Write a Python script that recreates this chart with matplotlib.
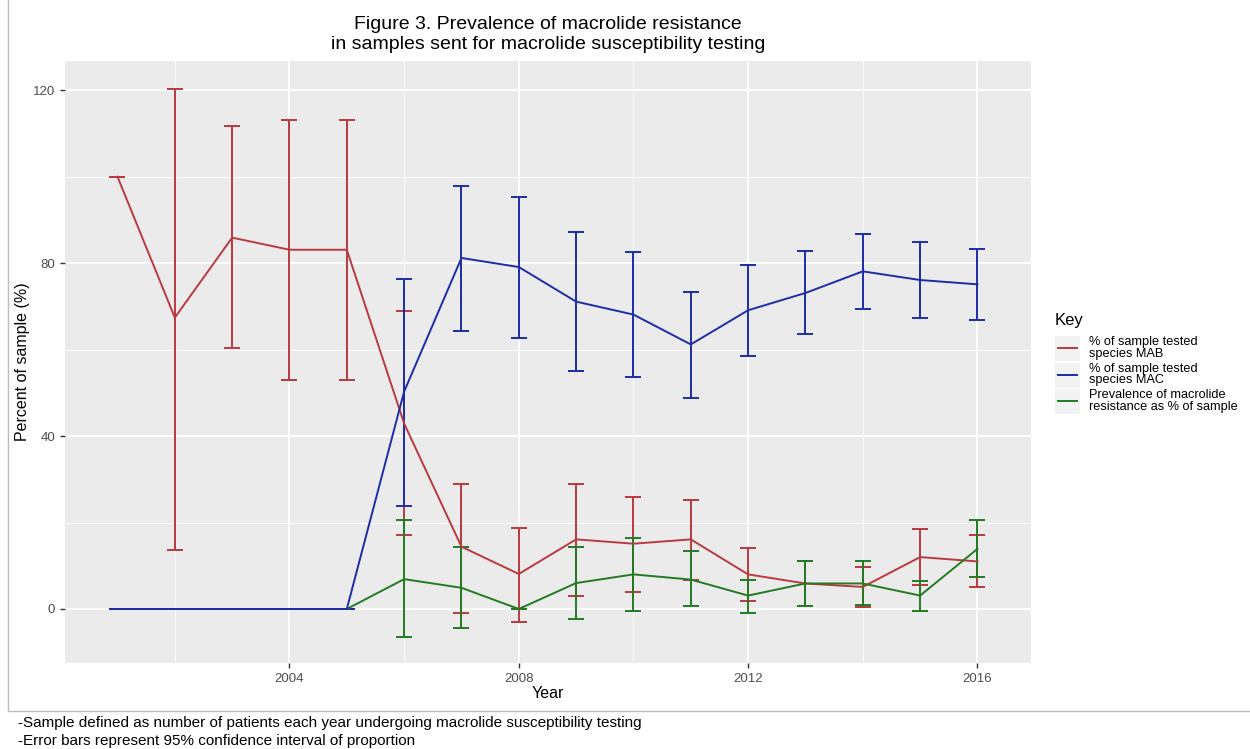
import numpy as np
import matplotlib
matplotlib.use("Agg")
import matplotlib.pyplot as plt
from matplotlib.lines import Line2D
from matplotlib.patches import Rectangle

plt.rcParams["font.family"] = ["Liberation Sans", "DejaVu Sans"]

years = np.arange(2001, 2017)

# % of sample tested species MAB
mab = [100, 67.4, 85.9, 83.1, 83.1, 42.9, 14.4, 8.1, 16.1, 15.1, 16.1, 8.0, 5.9, 5.1, 12.0, 11.0]
mab_lo = [100, 13.7, 60.3, 53.0, 53.0, 17.1, -0.9, -2.9, 3.1, 3.9, 6.8, 1.9, 0.8, 0.5, 5.5, 5.1]
mab_hi = [100, 120.3, 111.7, 113.0, 113.0, 69.0, 28.9, 18.8, 29.0, 26.0, 25.2, 14.2, 11.1, 9.6, 18.6, 17.0]

# % of sample tested species MAC
mac = [0, 0, 0, 0, 0, 50.3, 81.2, 79.1, 71.1, 68.1, 61.2, 69.1, 73.1, 78.1, 76.1, 75.1]
mac_lo = [0, 0, 0, 0, 0, 23.8, 64.2, 62.8, 55.1, 53.6, 48.8, 58.5, 63.6, 69.4, 67.4, 66.8]
mac_hi = [0, 0, 0, 0, 0, 76.3, 97.9, 95.4, 87.1, 82.5, 73.3, 79.6, 82.8, 86.7, 84.9, 83.3]

# Prevalence of macrolide resistance as % of sample
res = [0, 0, 0, 0, 0, 6.9, 4.9, 0, 6.0, 8.0, 6.8, 3.1, 5.9, 5.9, 3.1, 13.9]
res_lo = [0, 0, 0, 0, 0, -6.4, -4.4, 0, -2.4, -0.4, 0.6, -0.9, 0.8, 1.0, -0.5, 7.4]
res_hi = [0, 0, 0, 0, 0, 20.5, 14.4, 0, 14.4, 16.4, 13.4, 6.8, 11.1, 11.0, 6.5, 20.6]

labels = ["% of sample tested\nspecies MAB",
          "% of sample tested\nspecies MAC",
          "Prevalence of macrolide\nresistance as % of sample"]
colors = ["#B83A3F", "#1C2DA6", "#237A23"]

fig = plt.figure(figsize=(12.5, 7.49), dpi=100)
ax = fig.add_axes([0.0518, 0.1148, 0.7728, 0.8034])
ax.set_facecolor("#EBEBEB")
for s in ax.spines.values():
    s.set_visible(False)

ax.set_xlim(2000.08, 2016.93)
ax.set_ylim(-12.5, 126.7)
ax.set_xticks([2004, 2008, 2012, 2016])
ax.set_xticks([2002, 2006, 2010, 2014], minor=True)
ax.set_yticks([0, 40, 80, 120])
ax.set_yticks([20, 60, 100], minor=True)
ax.grid(which="major", color="white", lw=1.3)
ax.grid(which="minor", color="white", lw=0.6)
ax.set_axisbelow(True)
ax.tick_params(which="major", length=3.5, width=1, color="#333333",
               labelcolor="#4D4D4D", labelsize=9.5)
ax.tick_params(which="minor", length=0)

series = [(mab, mab_lo, mab_hi), (res, res_lo, res_hi), (mac, mac_lo, mac_hi)]
order = [0, 2, 1]
for (v, lo, hi), ci in zip(series, order):
    v = np.array(v)
    err = [v - np.array(lo), np.array(hi) - v]
    ax.errorbar(years, v, yerr=err, color=colors[ci], lw=1.4, elinewidth=1.4,
                capsize=6, capthick=1.4)

ax.set_xlabel("Year", fontsize=11.5, labelpad=1)
ax.set_ylabel("Percent of sample (%)", fontsize=11.5, labelpad=2)
ax.set_title("Figure 3. Prevalence of macrolide resistance\nin samples sent for macrolide susceptibility testing",
             fontsize=14, linespacing=1.2, pad=9)

# legend drawn in figure pixels
W, H = 1250, 749
fig.text(1055 / W, 1 - 320 / H, "Key", fontsize=12, va="center", ha="left")
for i, (lab, col) in enumerate(zip(labels, colors)):
    top = 335 + i * 26.5
    fig.add_artist(Rectangle((1055 / W, 1 - (top + 26) / H), 25 / W, 25 / H,
                             transform=fig.transFigure, facecolor="#F2F2F2",
                             edgecolor="none"))
    yc = 1 - (top + 13) / H
    fig.add_artist(Line2D([1058 / W, 1077 / W], [yc, yc], transform=fig.transFigure,
                          color=col, lw=1.4))
    fig.text(1089 / W, yc, lab, fontsize=9.2, va="center", ha="left", linespacing=0.95)

# frame around the plot area
fig.add_artist(Line2D([8 / W, 8 / W], [1, 1 - 711 / H], transform=fig.transFigure,
                      color="#BDBDBD", lw=1))
fig.add_artist(Line2D([8 / W, 1], [1 - 711 / H, 1 - 711 / H], transform=fig.transFigure,
                      color="#BDBDBD", lw=1))

fig.text(18 / W, 1 - 723 / H, "-Sample defined as number of patients each year undergoing macrolide susceptibility testing",
         fontsize=11, va="center", ha="left")
fig.text(18 / W, 1 - 741 / H, "-Error bars represent 95% confidence interval of proportion",
         fontsize=11, va="center", ha="left")

fig.savefig("out.png", dpi=100)
